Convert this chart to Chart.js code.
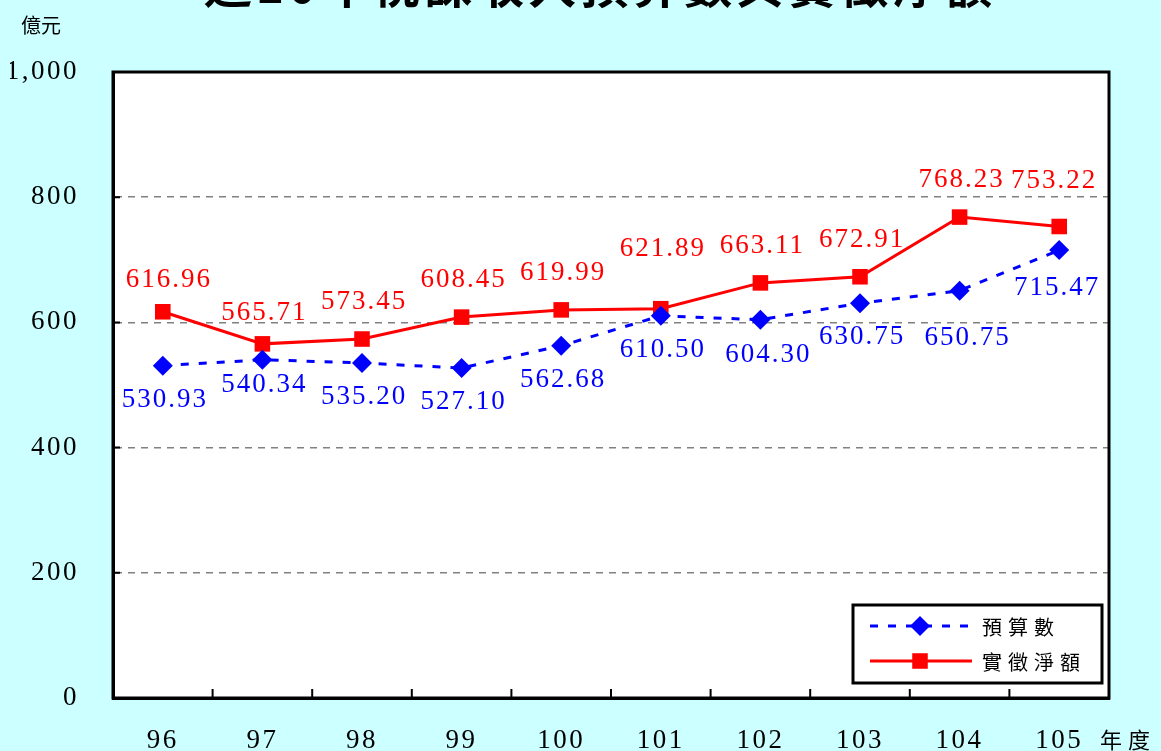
<!DOCTYPE html>
<html>
<head>
<meta charset="utf-8">
<script src="https://cdn.jsdelivr.net/npm/chart.js@4.4.1/dist/chart.umd.min.js"></script>
<style>
  html, body { margin: 0; padding: 0; background: #ccffff; }
  #wrap { width: 1161px; height: 751px; position: relative; }
</style>
</head>
<body>
<div id="wrap"><canvas id="chart"></canvas></div>
<script>
const TITLE = "近10年稅課收入預算數與實徵淨額"
const UNIT = "億元"
const YEARS = ["96", "97", "98", "99", "100", "101", "102", "103", "104", "105"]
const BUDGET = [530.93, 540.34, 535.20, 527.10, 562.68, 610.50, 604.30, 630.75, 650.75, 715.47]
const ACTUAL = [616.96, 565.71, 573.45, 608.45, 619.99, 621.89, 663.11, 672.91, 768.23, 753.22]
const SERIES = ["預算數", "實徵淨額"]

const SERIF = "'Liberation Serif', 'Times New Roman', serif"
const CJK = "'Noto Sans CJK TC', 'Noto Sans CJK SC', sans-serif"

// label nudges, [dx, dy] from the point
const BLUE_NUDGE = { 1: [0, 25], 6: [6, 35], 8: [6, 47], 9: [-4, 38] }
const RED_NUDGE = { 0: [4, -32], 1: [0, -31], 5: [0, -60], 9: [-7, -46] }

const frame = {
  id: "frame",
  beforeDraw(chart) {
    const { ctx, chartArea: a } = chart
    ctx.save()
    ctx.fillStyle = "#ffffff"
    ctx.fillRect(a.left, a.top, a.right - a.left, a.bottom - a.top)
    ctx.restore()
    ctx.letterSpacing = "2.5px"
  },
  afterDraw(chart) {
    const { ctx, chartArea: a } = chart
    const x = chart.scales.x, y = chart.scales.y
    ctx.save()
    ctx.strokeStyle = "#000"
    ctx.lineWidth = 3
    ctx.strokeRect(a.left, a.top, a.right - a.left, a.bottom - a.top)

    // inner tick marks
    ctx.lineWidth = 2
    ctx.beginPath()
    for (let v = 200; v < 1000; v += 200) {
      const py = y.getPixelForValue(v)
      ctx.moveTo(a.left, py); ctx.lineTo(a.left + 7, py)
    }
    for (let i = 1; i < YEARS.length; i++) {
      const px = (x.getPixelForValue(i - 1) + x.getPixelForValue(i)) / 2
      ctx.moveTo(px, a.bottom); ctx.lineTo(px, a.bottom - 9)
    }
    ctx.stroke()

    // title, cut off at the top as in the source
    ctx.fillStyle = "#000"
    ctx.font = "bold 48px " + CJK
    ctx.letterSpacing = "4px"
    ctx.textAlign = "center"
    ctx.textBaseline = "ideographic"
    ctx.fillText(TITLE, 600, 9)

    ctx.font = "20px " + CJK
    ctx.letterSpacing = "0px"
    ctx.textBaseline = "middle"
    ctx.fillText(UNIT, 41, 25)

    ctx.font = "22px " + CJK
    ctx.letterSpacing = "6px"
    ctx.textAlign = "left"
    ctx.fillText("年度", 1100, 740)

    // point labels
    ctx.font = "27px " + SERIF
    ctx.letterSpacing = "2px"
    ctx.textAlign = "center"
    const sets = [[0, "#0000ff", BLUE_NUDGE, 34], [1, "#ff0000", RED_NUDGE, -37]]
    sets.forEach(([di, color, nudge, dy]) => {
      ctx.fillStyle = color
      chart.getDatasetMeta(di).data.forEach((pt, i) => {
        const n = nudge[i] || [0, dy]
        const v = chart.data.datasets[di].data[i]
        ctx.fillText(v.toFixed(2), pt.x + n[0] + 2, pt.y + n[1])
      })
    })

    // legend
    ctx.fillStyle = "#fff"
    ctx.fillRect(853, 605, 249, 78)
    ctx.lineWidth = 3
    ctx.strokeStyle = "#000"
    ctx.strokeRect(853, 605, 249, 78)
    const rows = [[626, "#0000ff", [8, 10], "rectRot", 10], [661, "#ff0000", [], "rect", 11]]
    rows.forEach(([ry, color, dash, style, r], i) => {
      ctx.strokeStyle = color
      ctx.fillStyle = color
      ctx.lineWidth = 3
      ctx.setLineDash(dash)
      ctx.beginPath(); ctx.moveTo(870, ry); ctx.lineTo(972, ry); ctx.stroke()
      ctx.setLineDash([])
      Chart.helpers.drawPoint(ctx, { pointStyle: style, radius: r, borderWidth: 0 }, 920, ry)
      ctx.fillStyle = "#000"
      ctx.font = "20px " + CJK
      ctx.letterSpacing = "6px"
      ctx.textAlign = "left"
      ctx.textBaseline = "middle"
      ctx.fillText(SERIES[i], 982, ry + 1)
    })
    ctx.restore()
  }
}

new Chart(document.getElementById("chart"), {
  type: "line",
  data: {
    labels: YEARS,
    datasets: [{
      label: SERIES[0],
      data: BUDGET,
      borderColor: "#0000ff",
      backgroundColor: "#0000ff",
      borderWidth: 3,
      borderDash: [8, 10],
      pointStyle: "rectRot",
      pointRadius: 10,
      pointBorderWidth: 0,
      tension: 0,
    }, {
      label: SERIES[1],
      data: ACTUAL,
      borderColor: "#ff0000",
      backgroundColor: "#ff0000",
      borderWidth: 3,
      pointStyle: "rect",
      pointRadius: 11,
      pointBorderWidth: 0,
      tension: 0,
    }]
  },
  options: {
    responsive: true,
    maintainAspectRatio: false,
    animation: false,
    layout: { padding: { left: 10, right: 52, top: 72, bottom: 0 } },
    plugins: { legend: { display: false }, tooltip: { enabled: false } },
    scales: {
      x: {
        offset: true,
        grid: { display: false, offset: true, drawTicks: false },
        border: { display: true, color: "#000", width: 3 },
        ticks: { color: "#000", font: { family: SERIF, size: 27 }, padding: 27, maxRotation: 0 },
        afterFit: s => { s.height = 53 },
      },
      y: {
        min: 0,
        max: 1000,
        grid: {
          drawTicks: false,
          color: c => (c.tick.value > 0 && c.tick.value < 1000) ? "#808080" : "rgba(0,0,0,0)",
          lineWidth: 1.5,
        },
        border: { display: true, color: "#000", width: 3, dash: [7, 6] },
        ticks: {
          stepSize: 200,
          color: "#000",
          padding: 34,
          font: { family: SERIF, size: 27 },
          callback: v => v.toLocaleString("en-US"),
        },
        afterFit: s => { s.width = 103 },
      }
    }
  },
  plugins: [frame]
})
</script>
</body>
</html>
